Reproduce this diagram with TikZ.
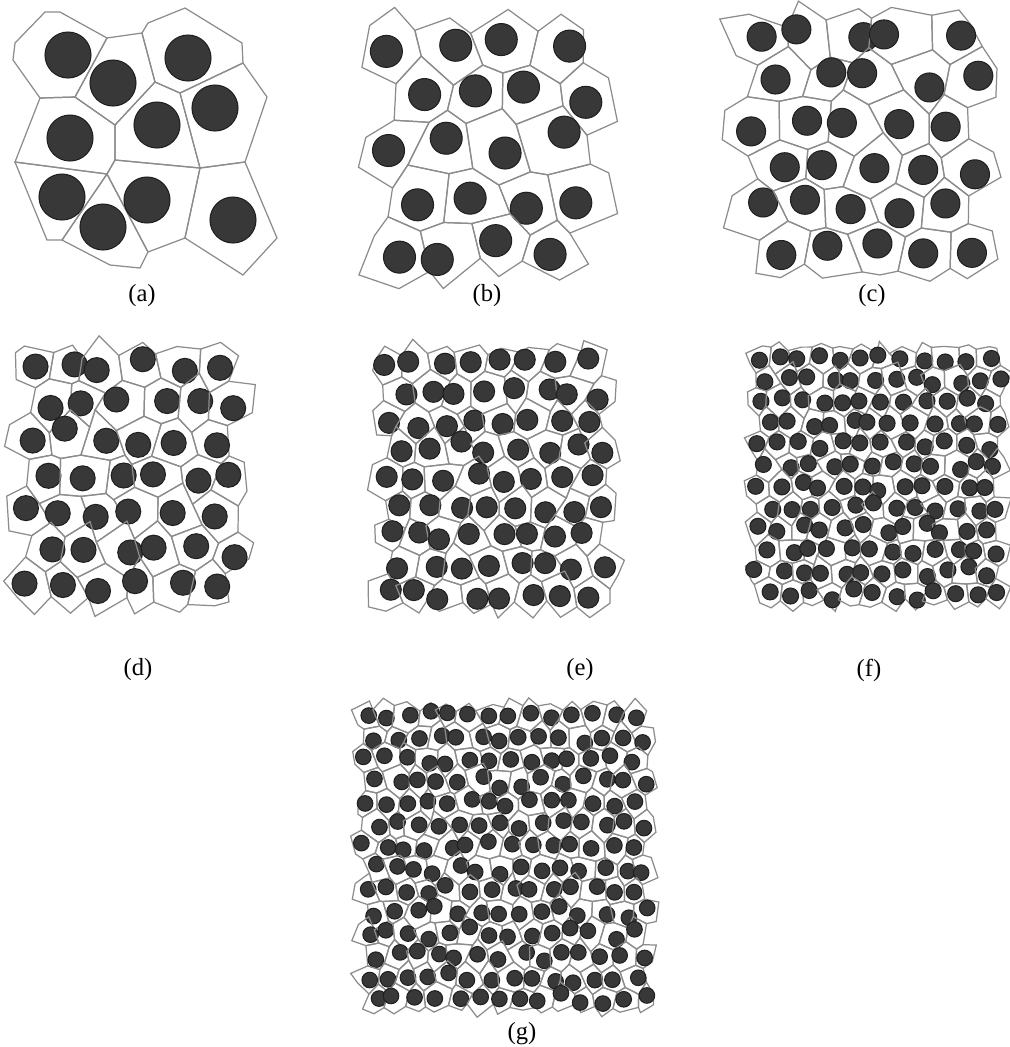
\documentclass[tikz,border=0pt]{standalone}
\usepackage{fontspec}
\setmainfont{Liberation Serif}
\usetikzlibrary{calc}

\tikzset{
  cell/.style={draw=black!45, line width=0.35pt},
  particle/.style={fill=black!78, draw=black!88, line width=0.3pt},
  lbl/.style={font=\fontsize{7}{8}\selectfont, inner sep=0pt}
}

% jittered hexagonal cells, one particle each
% #1 name, #2 x0, #3 y0, #4 rows, #5 columns, #6 cell width, #7 cell height, #8 radius, #9 seed
\newcommand{\cellpanel}[9]{%
  \pgfmathsetseed{#9}
  \pgfmathtruncatemacro\mmax{2*#5+1}
  \pgfmathtruncatemacro\rmax{#4-1}
  \pgfmathtruncatemacro\cmax{#5-1}
  % vertices
  \foreach \k in {0,...,#4}{
    \foreach \m in {0,...,\mmax}{
      \pgfmathsetmacro\zz{ifthenelse(mod(\m+\k,2)==0,1,-1)}
      \coordinate (#1-\k-\m) at ({#2+\m*#6/2+0.21*#6*rand},{#3+\k*#7+0.16*#7*\zz+0.17*#7*rand});
    }
  }
  % cells and particles
  \foreach \row in {0,...,\rmax}{
    \foreach \col in {0,...,\cmax}{
      \pgfmathtruncatemacro\ml{2*\col+mod(\row,2)}
      \pgfmathtruncatemacro\mc{\ml+1}
      \pgfmathtruncatemacro\mr{\ml+2}
      \pgfmathtruncatemacro\rb{\row+1}
      \draw[cell] (#1-\row-\ml) -- (#1-\row-\mc) -- (#1-\row-\mr) -- (#1-\rb-\mr) -- (#1-\rb-\mc) -- (#1-\rb-\ml) -- cycle;
      \fill[particle] ($(#1-\row-\mc)!0.5!(#1-\rb-\mc)+({0.17*#6*rand},{0.17*#7*rand})$) circle[radius=#8*0.01cm];
    }
  }
}

\begin{document}
\begin{tikzpicture}[x=0.01cm, y=-0.01cm]

\fill[white] (0,0) rectangle (1010,1047);
\useasboundingbox (0,0) rectangle (1010,1047);

% panel a
\foreach \n/\x/\y in {1/15/43, 2/45/12, 3/60/12, 4/107/38, 5/142/33, 6/148/23, 7/185/8,
  8/242/43, 9/243/63, 10/267/97, 11/245/162, 12/200/168, 13/180/93, 14/155/82,
  15/115/125, 16/75/97, 17/40/98, 18/13/60, 19/115/160, 20/107/174, 21/15/162,
  22/47/240, 23/62/240, 24/110/265, 25/140/268, 26/148/252, 27/185/238, 28/277/238, 29/243/275}
{
  \coordinate (a\n) at (\x,\y);
}
\draw[cell] (a1) -- (a2) -- (a3) -- (a4) -- (a16) -- (a17) -- (a18) -- cycle;
\draw[cell] (a4) -- (a5) -- (a14) -- (a15) -- (a16) -- cycle;
\draw[cell] (a5) -- (a6) -- (a7) -- (a8) -- (a9) -- (a13) -- (a14) -- cycle;
\draw[cell] (a9) -- (a10) -- (a11) -- (a12) -- (a13) -- cycle;
\draw[cell] (a15) -- (a14) -- (a13) -- (a12) -- (a19) -- cycle;
\draw[cell] (a17) -- (a16) -- (a15) -- (a19) -- (a20) -- (a21) -- cycle;
\draw[cell] (a21) -- (a20) -- (a23) -- (a22) -- cycle;
\draw[cell] (a20) -- (a26) -- (a25) -- (a24) -- (a23) -- cycle;
\draw[cell] (a19) -- (a12) -- (a27) -- (a26) -- (a20) -- cycle;
\draw[cell] (a12) -- (a11) -- (a28) -- (a29) -- (a27) -- cycle;
\foreach \x/\y in {68/55, 113/83, 188/58, 215/108, 70/138, 157/125, 62/197, 147/200, 103/227, 233/220}
{
  \fill[particle] (\x,\y) circle[radius=23*0.01cm];
}

% panels b to g
\cellpanel{b}{365}{20}{5}{4}{54}{51}{16}{11}
\cellpanel{c}{730}{15}{6}{5}{49}{43}{14.5}{23}
\cellpanel{d}{10}{347}{7}{6}{37}{37}{12.5}{37}
\cellpanel{e}{372}{348}{9}{8}{29}{29}{10.5}{41}
\cellpanel{f}{748}{347}{12}{12}{20.8}{21.5}{8}{53}
\cellpanel{g}{355}{705}{14}{14}{20.7}{21.8}{7.8}{67}

% labels
\node[lbl] (la) at (142,296) {(a)};
\node[lbl] (lb) at (487,296) {(b)};
\node[lbl] (lc) at (872,296) {(c)};
\node[lbl] (ld) at (138,670) {(d)};
\node[lbl] (le) at (580,670) {(e)};
\node[lbl] (lf) at (869,670) {(f)};
\node[lbl] (lg) at (522,1034) {(g)};

\end{tikzpicture}
\end{document}
